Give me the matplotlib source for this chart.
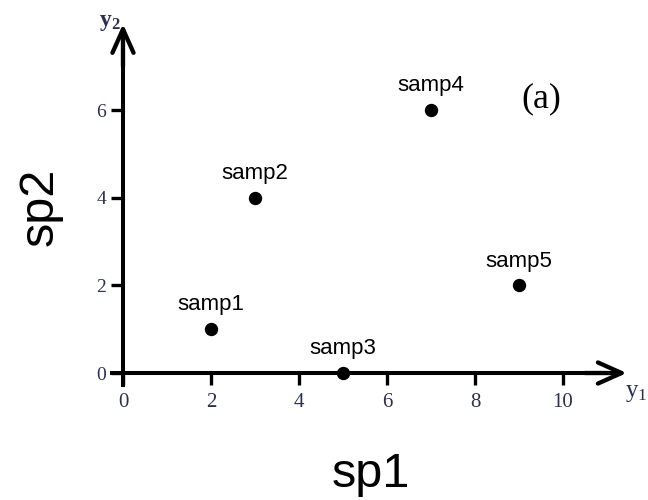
import matplotlib
matplotlib.use('Agg')
import matplotlib.pyplot as plt

# sample coordinates
samples = ['samp1', 'samp2', 'samp3', 'samp4', 'samp5']
sp1 = [2, 3, 5, 7, 9]
sp2 = [1, 4, 0, 6, 2]

xticks = [0, 2, 4, 6, 8, 10]
yticks = [0, 2, 4, 6]

plt.rcParams['font.family'] = 'Liberation Sans'
plt.rcParams['mathtext.fontset'] = 'custom'
plt.rcParams['mathtext.rm'] = 'Liberation Serif'
plt.rcParams['mathtext.bf'] = 'Liberation Serif:bold'

fig = plt.figure(figsize=(6.48, 5), dpi=100)
ax = fig.add_axes([80 / 648, 75 / 500, 560 / 648, 415 / 500])
ax.set_xlim(-0.977, 11.75)
ax.set_ylim(-1.187, 8.288)

# axes through the origin
for s in ['top', 'right']:
    ax.spines[s].set_visible(False)
ax.spines['left'].set_position(('data', 0))
ax.spines['bottom'].set_position(('data', 0))
ax.spines['left'].set_bounds(-0.27, 7.6)
ax.spines['bottom'].set_bounds(-0.25, 11.1)
ax.spines['left'].set_linewidth(2.9)
ax.spines['bottom'].set_linewidth(2.9)

arrow = dict(arrowstyle='->,head_length=0.85,head_width=0.38', lw=3.1,
             color='black', mutation_scale=20, shrinkA=0, shrinkB=0)
ax.annotate('', xy=(11.45, 0), xytext=(10.5, 0), arrowprops=arrow)
ax.annotate('', xy=(0, 7.97), xytext=(0, 7.0), arrowprops=arrow)

ax.set_xticks(xticks)
ax.set_yticks(yticks)
ax.tick_params(axis='both', direction='out', length=8.6, width=2.4, color='black')
ax.tick_params(axis='x', pad=5.5, labelsize=15, labelcolor='#2b3050')
ax.tick_params(axis='y', pad=3.6, labelsize=14, labelcolor='#2b3050')
for lab in ax.get_xticklabels() + ax.get_yticklabels():
    lab.set_fontfamily('Liberation Serif')

# points and labels
ax.plot(sp1, sp2, 'o', color='black', ms=8.6, clip_on=False)
for name, x, y in zip(samples, sp1, sp2):
    ax.annotate(name, (x, y), xytext=(0, 13.5), textcoords='offset points',
                ha='center', va='baseline', fontsize=16)

ax.text(11.42, -0.55, r'$\mathrm{y_1}$', fontsize=18, ha='left',
        va='baseline', color='#2b3050')
ax.text(-0.05, 7.93, r'$\mathbf{y_2}$', fontsize=17, ha='right',
        va='baseline', color='#2b3050')
ax.text(9.5, 6.25, '(a)', fontsize=26, ha='center', va='center',
        fontfamily='Liberation Serif')

fig.text(371 / 648, 13 / 500, 'sp1', fontsize=35, ha='center', va='baseline')
fig.text(40 / 648, 293 / 500, 'sp2', fontsize=35, ha='center', va='center',
         rotation=90)

plt.savefig('out.png', dpi=100)
